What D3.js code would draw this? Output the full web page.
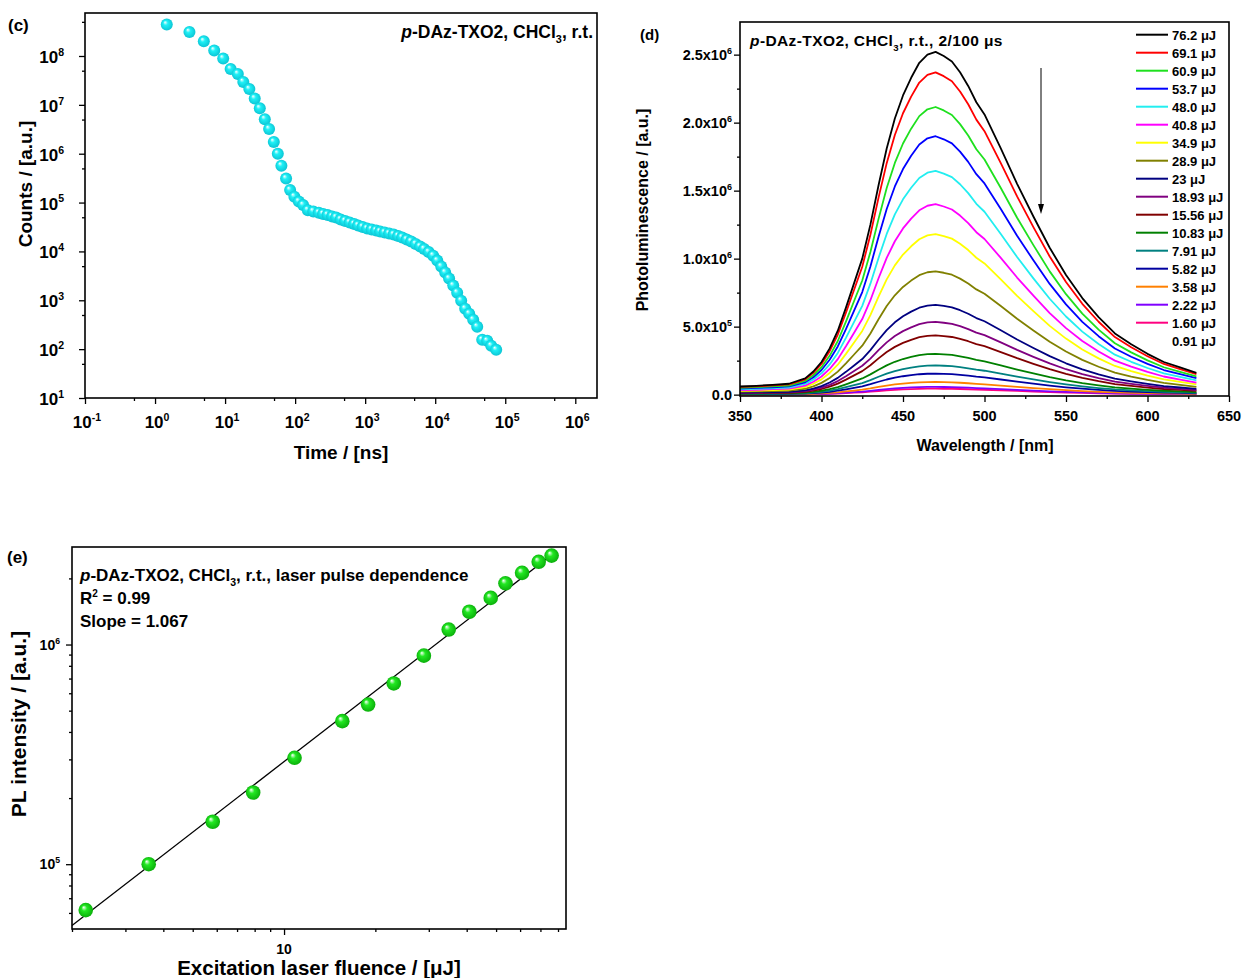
<!DOCTYPE html>
<html>
<head>
<meta charset="utf-8">
<script src="https://cdn.jsdelivr.net/npm/d3@7"></script>
<style>
  body { margin: 0; background: #fff; }
  svg { font-family: "Liberation Sans", Arial, sans-serif; font-weight: bold; }
  .frame { fill: none; stroke: #000; stroke-width: 1.6; }
  .axis path { display: none; }
  .axis line { stroke: #000; stroke-width: 1.3; }
</style>
</head>
<body>
<svg id="fig" width="1244" height="978"></svg>
<script>
// ---- (c) decay trace ----
var decayTime = [1.47, 3.1, 4.97, 7.0, 9.4, 12.0, 15.2, 18.2, 22.2, 26.5, 31.3, 36.9, 42.5, 49.6, 56.6, 63.7, 74.3, 84.8, 97.7,
  113, 130, 152, 182, 218, 251, 291, 338, 385, 447, 518, 601, 697, 794, 921, 1068, 1239, 1436, 1638, 1900, 2203, 2555,
  2960, 3380, 3920, 4540, 5260, 6100, 6960, 8070, 9360, 10700, 12200, 13900, 15800, 18100, 20600, 23500, 26800,
  30600, 34900, 39800, 46900, 55300, 63100, 74300];
var decayCounts = [4.4e8, 3.1e8, 2.0e8, 1.3e8, 8.9e7, 5.4e7, 4.3e7, 2.95e7, 2.1e7, 1.35e7, 8.5e6, 5.1e6, 3.2e6, 1.74e6,
  1.0e6, 5.7e5, 3.1e5, 1.8e5, 1.32e5, 1.05e5, 8.9e4, 7.0e4, 6.6e4, 6.2e4, 5.86e4, 5.59e4, 5.21e4, 4.97e4, 4.52e4,
  4.21e4, 3.92e4, 3.65e4, 3.4e4, 3.17e4, 2.95e4, 2.82e4, 2.69e4, 2.56e4, 2.44e4, 2.33e4, 2.22e4, 2.07e4, 1.93e4,
  1.75e4, 1.6e4, 1.42e4, 1.26e4, 1.12e4, 9700, 8200, 6500, 4900, 3700, 2780, 2000, 1430, 982, 673, 531, 400, 287,
  155, 148, 117, 97];
var decayXExp = [-1, 0, 1, 2, 3, 4, 5, 6];
var decayYExp = [1, 2, 3, 4, 5, 6, 7, 8];

// ---- (d) PL spectra: 76.2 uJ trace, the others scaled by their peak ----
var wavelengths = [350, 360, 370, 380, 390, 395, 400, 405, 410, 415, 420, 425, 430, 435, 440, 445, 450, 455, 460, 465,
  470, 475, 480, 485, 490, 495, 500, 510, 520, 530, 540, 550, 560, 570, 580, 590, 600, 610, 620, 630];
var refSpectrum = [0.06, 0.065, 0.072, 0.08, 0.12, 0.17, 0.24, 0.34, 0.47, 0.64, 0.82, 1.0, 1.25, 1.54, 1.81, 2.03,
  2.2, 2.33, 2.44, 2.5, 2.52, 2.49, 2.45, 2.37, 2.27, 2.15, 2.06, 1.81, 1.55, 1.31, 1.08, 0.88, 0.71, 0.57, 0.45,
  0.37, 0.3, 0.24, 0.2, 0.16];
var pulseLabels = ["76.2 μJ", "69.1 μJ", "60.9 μJ", "53.7 μJ", "48.0 μJ", "40.8 μJ", "34.9 μJ", "28.9 μJ", "23 μJ",
  "18.93 μJ", "15.56 μJ", "10.83 μJ", "7.91 μJ", "5.82 μJ", "3.58 μJ", "2.22 μJ", "1.60 μJ", "0.91 μJ"];
var pulsePeaks = [2.52, 2.37, 2.115, 1.90, 1.645, 1.40, 1.18, 0.907, 0.66, 0.535, 0.436, 0.30, 0.215, 0.155, 0.093,
  0.057, 0.044, 0.02];
var specXTicks = [350, 400, 450, 500, 550, 600, 650];
var specYTicks = [["0.0", ""], ["5.0x10", "5"], ["1.0x10", "6"], ["1.5x10", "6"], ["2.0x10", "6"], ["2.5x10", "6"]];

// ---- (e) fluence dependence ----
var fluence = [2.22, 3.58, 5.82, 7.91, 10.83, 15.56, 18.93, 23, 28.9, 34.9, 40.8, 48.0, 53.7, 60.9, 69.1, 76.2];
var plIntensity = [6.18e4, 1.0e5, 1.56e5, 2.12e5, 3.05e5, 4.48e5, 5.33e5, 6.65e5, 8.9e5, 1.17e6, 1.41e6, 1.63e6,
  1.90e6, 2.12e6, 2.38e6, 2.54e6];
var fitSlope = 1.067, fitLogA = 4.400;
var fitRange = [2, 78];

var lineColors = ["#000000", "#ff0000", "#1ee01e", "#0000ff", "#22eef0", "#ff00ff", "#ffff00", "#808000", "#000080",
  "#800080", "#800000", "#008000", "#008080", "#0000a0", "#ff8000", "#8000ff", "#ff0080", "#ffffff"];

var svg = d3.select("#fig");
var defs = svg.append("defs");

function sphere(id, mid, edge) {
  var g = defs.append("radialGradient").attr("id", id)
    .attr("cx", "50%").attr("cy", "50%").attr("r", "55%").attr("fx", "35%").attr("fy", "30%");
  g.append("stop").attr("offset", "0%").attr("stop-color", "#ffffff");
  g.append("stop").attr("offset", "35%").attr("stop-color", mid);
  g.append("stop").attr("offset", "100%").attr("stop-color", edge);
}
sphere("gCyan", "#1ef0f6", "#0ac0d0");
sphere("gGreen", "#22e822", "#08a808");

function powText(g, x, y, base, exp, size, anchor) {
  var t = g.append("text").attr("x", x).attr("y", y).attr("text-anchor", anchor).style("font-size", size + "px");
  t.append("tspan").text(base);
  if (exp !== "") t.append("tspan").attr("dy", -size * 0.42).style("font-size", (size * 0.62) + "px").text(exp);
  return t;
}

// sample title: italic p, subscript 3
function sampleTitle(g, x, y, size, anchor, tail) {
  var t = g.append("text").attr("x", x).attr("y", y).attr("text-anchor", anchor).style("font-size", size + "px");
  t.append("tspan").style("font-style", "italic").text("p");
  t.append("tspan").text("-DAz-TXO2, CHCl");
  t.append("tspan").attr("dy", size * 0.3).style("font-size", (size * 0.62) + "px").text("3");
  t.append("tspan").attr("dy", -size * 0.3).text(tail);
  return t;
}

function minorLog(lo, hi, mults) {
  var out = [];
  for (var e = lo; e <= hi; e++) mults.forEach(function(m) { out.push(m * Math.pow(10, e)); });
  return out;
}

// ================= (c) =================
var C = {l: 85, t: 13, r: 597, b: 398};
var xc = d3.scaleLog().domain([0.1, Math.pow(10, 6.31)]).range([C.l, C.r]);
var yc = d3.scaleLog().domain([10, Math.pow(10, 8.88)]).range([C.b, C.t]);
var gc = svg.append("g");

gc.append("g").attr("class", "axis").attr("transform", "translate(0," + C.b + ")")
  .call(d3.axisBottom(xc).tickValues(decayXExp.map(function(e) { return Math.pow(10, e); })).tickSize(6).tickFormat(""));
gc.append("g").attr("class", "axis").attr("transform", "translate(0," + C.b + ")")
  .call(d3.axisBottom(xc).tickValues(minorLog(-1, 5, [5])).tickSize(3).tickFormat(""));
gc.append("g").attr("class", "axis").attr("transform", "translate(" + C.l + ",0)")
  .call(d3.axisLeft(yc).tickValues(decayYExp.map(function(e) { return Math.pow(10, e); })).tickSize(6).tickFormat(""));
gc.append("g").attr("class", "axis").attr("transform", "translate(" + C.l + ",0)")
  .call(d3.axisLeft(yc).tickValues(minorLog(1, 8, [5])).tickSize(3).tickFormat(""));

decayXExp.forEach(function(e) {
  powText(gc, xc(Math.pow(10, e)) + 2, 428, "10", String(e), 17, "middle");
});
decayYExp.forEach(function(e) {
  powText(gc, 64, yc(Math.pow(10, e)) + 7, "10", String(e), 17, "end");
});

gc.selectAll("circle.dc").data(decayTime).enter().append("circle")
  .attr("cx", function(d) { return xc(d); })
  .attr("cy", function(d, i) { return yc(decayCounts[i]); })
  .attr("r", 6).attr("fill", "url(#gCyan)");

gc.append("rect").attr("class", "frame").attr("x", C.l).attr("y", C.t).attr("width", C.r - C.l).attr("height", C.b - C.t);
gc.append("text").attr("x", 8).attr("y", 31).style("font-size", "17px").text("(c)");
sampleTitle(gc, 593, 38, 17.5, "end", ", r.t.");
gc.append("text").attr("x", 341).attr("y", 459).attr("text-anchor", "middle").style("font-size", "19px").text("Time / [ns]");
gc.append("text").attr("transform", "translate(32,184) rotate(-90)").attr("text-anchor", "middle")
  .style("font-size", "19px").text("Counts / [a.u.]");

// ================= (d) =================
var D = {l: 740, t: 22, r: 1229, b: 396};
var xd = d3.scaleLinear().domain([350, 650]).range([D.l, D.r]);
var yd = d3.scaleLinear().domain([-0.01, 2.74]).range([D.b, D.t]);
var gd = svg.append("g");

gd.append("g").attr("class", "axis").attr("transform", "translate(0," + D.b + ")")
  .call(d3.axisBottom(xd).tickValues(specXTicks).tickSize(6).tickFormat(""));
gd.append("g").attr("class", "axis").attr("transform", "translate(0," + D.b + ")")
  .call(d3.axisBottom(xd).tickValues([375, 425, 475, 525, 575, 625]).tickSize(3).tickFormat(""));
gd.append("g").attr("class", "axis").attr("transform", "translate(" + D.l + ",0)")
  .call(d3.axisLeft(yd).tickValues([0, 0.5, 1, 1.5, 2, 2.5]).tickSize(6).tickFormat(""));
gd.append("g").attr("class", "axis").attr("transform", "translate(" + D.l + ",0)")
  .call(d3.axisLeft(yd).tickValues([0.25, 0.75, 1.25, 1.75, 2.25]).tickSize(3).tickFormat(""));

specXTicks.forEach(function(v) {
  gd.append("text").attr("x", xd(v)).attr("y", 421).attr("text-anchor", "middle").style("font-size", "14.5px").text(v);
});
specYTicks.forEach(function(lab, i) {
  powText(gd, 732, yd(i * 0.5) + 5, lab[0], lab[1], 14.5, "end");
});

var line = d3.line()
  .x(function(d, i) { return xd(wavelengths[i]); })
  .y(function(d) { return yd(d); });

// lowest trace first so the strong ones sit on top
d3.range(pulsePeaks.length - 1, -1, -1).forEach(function(k) {
  var s = pulsePeaks[k] / pulsePeaks[0];
  gd.append("path").datum(refSpectrum.map(function(v) { return v * s; }))
    .attr("d", line).attr("fill", "none").attr("stroke", lineColors[k]).attr("stroke-width", 1.8)
    .attr("stroke-linejoin", "round");
});

gd.append("rect").attr("class", "frame").attr("x", D.l).attr("y", D.t).attr("width", D.r - D.l).attr("height", D.b - D.t);

var lg = gd.append("g");
pulseLabels.forEach(function(lab, i) {
  var y = 34.7 + 18 * i;
  lg.append("line").attr("x1", 1136).attr("x2", 1168).attr("y1", y).attr("y2", y)
    .attr("stroke", lineColors[i]).attr("stroke-width", 2);
  lg.append("text").attr("x", 1172).attr("y", y + 5).style("font-size", "13px").text(lab);
});

// arrow
gd.append("line").attr("x1", 1041).attr("x2", 1041).attr("y1", 68).attr("y2", 207).attr("stroke", "#000").attr("stroke-width", 1);
gd.append("path").attr("d", "M1038,204 L1044,204 L1041,214 Z").attr("fill", "#000");

gd.append("text").attr("x", 640).attr("y", 40).style("font-size", "15px").text("(d)");
sampleTitle(gd, 750, 46, 15.5, "start", ", r.t., 2/100 μs").style("letter-spacing", "0.4px");
gd.append("text").attr("x", 985).attr("y", 451).attr("text-anchor", "middle").style("font-size", "16px").text("Wavelength / [nm]");
gd.append("text").attr("transform", "translate(648,210) rotate(-90)").attr("text-anchor", "middle")
  .style("font-size", "16px").text("Photoluminescence / [a.u.]");

// ================= (e) =================
var E = {l: 72, t: 547, r: 566, b: 929};
var xe = d3.scaleLog().domain([2, 85]).range([E.l, E.r]);
var ye = d3.scaleLog().domain([Math.pow(10, 4.705), Math.pow(10, 6.444)]).range([E.b, E.t]);
var ge = svg.append("g");

ge.append("g").attr("class", "axis").attr("transform", "translate(0," + E.b + ")")
  .call(d3.axisBottom(xe).tickValues([10]).tickSize(6).tickFormat(""));
ge.append("g").attr("class", "axis").attr("transform", "translate(0," + E.b + ")")
  .call(d3.axisBottom(xe).tickValues([2, 3, 4, 5, 6, 7, 8, 9, 20, 30, 40, 50, 60, 70, 80]).tickSize(3).tickFormat(""));
ge.append("g").attr("class", "axis").attr("transform", "translate(" + E.l + ",0)")
  .call(d3.axisLeft(ye).tickValues([1e5, 1e6]).tickSize(6).tickFormat(""));
ge.append("g").attr("class", "axis").attr("transform", "translate(" + E.l + ",0)")
  .call(d3.axisLeft(ye).tickValues([6e4, 7e4, 8e4, 9e4, 2e5, 3e5, 4e5, 5e5, 6e5, 7e5, 8e5, 9e5, 2e6]).tickSize(3).tickFormat(""));

ge.append("text").attr("x", xe(10)).attr("y", 954).attr("text-anchor", "middle").style("font-size", "14px").text("10");
powText(ge, 60, ye(1e6) + 5, "10", "6", 14, "end");
powText(ge, 60, ye(1e5) + 5, "10", "5", 14, "end");

ge.append("path")
  .datum(fitRange)
  .attr("d", d3.line()
    .x(function(d) { return xe(d); })
    .y(function(d) { return ye(Math.pow(10, fitLogA + fitSlope * Math.log10(d))); }))
  .attr("stroke", "#000").attr("stroke-width", 1.3).attr("fill", "none");

ge.selectAll("circle.pl").data(fluence).enter().append("circle")
  .attr("cx", function(d) { return xe(d); })
  .attr("cy", function(d, i) { return ye(plIntensity[i]); })
  .attr("r", 7.3).attr("fill", "url(#gGreen)");

ge.append("rect").attr("class", "frame").attr("x", E.l).attr("y", E.t).attr("width", E.r - E.l).attr("height", E.b - E.t);
ge.append("text").attr("x", 7).attr("y", 563).style("font-size", "17px").text("(e)");
sampleTitle(ge, 80, 581, 17, "start", ", r.t., laser pulse dependence");
var r2 = ge.append("text").attr("x", 80).attr("y", 604).style("font-size", "17px");
r2.append("tspan").text("R");
r2.append("tspan").attr("dy", -7).style("font-size", "10px").text("2");
r2.append("tspan").attr("dy", 7).text(" = 0.99");
ge.append("text").attr("x", 80).attr("y", 627).style("font-size", "17px").text("Slope = 1.067");
ge.append("text").attr("x", 319).attr("y", 975).attr("text-anchor", "middle").style("font-size", "20.5px")
  .text("Excitation laser fluence / [μJ]");
ge.append("text").attr("transform", "translate(26,724) rotate(-90)").attr("text-anchor", "middle")
  .style("font-size", "21px").text("PL intensity / [a.u.]");
</script>
</body>
</html>
